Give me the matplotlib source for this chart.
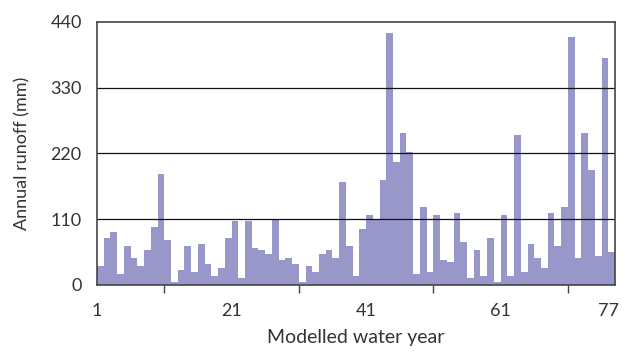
import matplotlib.pyplot as plt

plt.rcParams['font.family'] = ['Lato', 'DejaVu Sans']

years = list(range(1, 78))
runoff = [32, 79, 88, 18, 65, 45, 32, 59, 97, 186,
          75, 5, 25, 65, 22, 69, 35, 15, 28, 79,
          107, 12, 107, 62, 59, 52, 109, 42, 45, 35,
          5, 32, 22, 52, 59, 45, 172, 65, 15, 94,
          117, 108, 176, 422, 206, 255, 223, 18, 131, 22,
          117, 42, 38, 121, 72, 12, 59, 15, 79, 5,
          117, 15, 251, 22, 69, 45, 28, 121, 65, 131,
          415, 45, 255, 193, 49, 380, 55]
xtick_labels = [1, 21, 41, 61, 77]
ytick_vals = [0, 110, 220, 330, 440]

fig = plt.figure(figsize=(6.31, 3.54), dpi=100)
ax = fig.add_axes([0.1537, 0.195, 0.8209, 0.743])

ax.bar(years, runoff, width=1.0, align='edge', color='#9797c9', linewidth=0, zorder=1)

for v in ytick_vals[1:-1]:
    ax.axhline(v, color='#111111', linewidth=0.9, zorder=2)

ax.set_xlim(1, 78)
ax.set_ylim(0, 440)
ax.set_yticks(ytick_vals)
ax.set_xticks(xtick_labels)
ax.set_xticks(range(1, 78, 10), minor=True)
ax.tick_params(axis='x', which='both', direction='out', length=6, width=1,
               color='#444444', labelsize=13, labelcolor='#333333', pad=13)
ax.tick_params(axis='x', which='major', length=0)
ax.tick_params(axis='y', length=0, labelsize=13, labelcolor='#333333', pad=11)

for s in ax.spines.values():
    s.set_color('#444444')
    s.set_linewidth(1.2)

ax.set_xlabel('Modelled water year', fontsize=14, color='#333333', labelpad=7)
ax.set_ylabel('Annual runoff (mm)', fontsize=13, color='#333333', labelpad=14)

plt.savefig('out.png', dpi=100)
